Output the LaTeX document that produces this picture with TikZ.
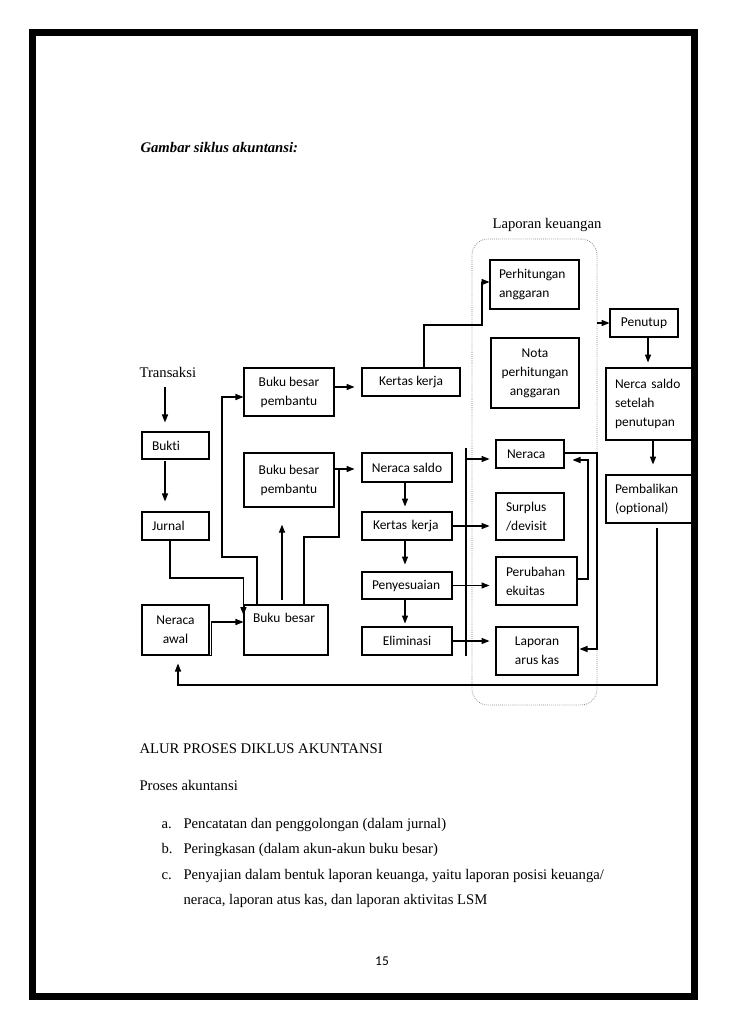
\documentclass[tikz,border=0pt]{standalone}
\usepackage{fontspec}
\setmainfont{Liberation Serif}
\newfontfamily\calibri[Ligatures=NoCommon]{Carlito}
\usetikzlibrary{arrows.meta}
\newlength{\pix}
\setlength{\pix}{0.8173pt}

\begin{document}
\begin{tikzpicture}[x=0.8173pt,y=-0.8173pt,line width=0.9pt,>={Triangle[length=6.5pt,width=5pt]},
  box/.style={draw,inner sep=0pt,font=\calibri\fontsize{11}{15.5}\selectfont,align=center},
  lbox/.style={box,align=left},
  txt/.style={inner sep=0pt,anchor=base west,font=\fontsize{12}{14}\selectfont}]
\useasboundingbox (0,0) rectangle (728,1030);

\node[txt,font=\bfseries\itshape\fontsize{12}{14}\selectfont] (judul) at (140,152) {Gambar siklus akuntansi:};
\node[txt] (transaksi) at (139,377) {Transaksi};
\node[txt] (lkjudul) at (492,228) {Laporan keuangan};

\node[lbox,text width=47\pix,inner xsep=10\pix,minimum height=27\pix] (bukti) at (175.5,445.5) {Bukti};
\node[lbox,text width=47\pix,inner xsep=10\pix,minimum height=28\pix] (jurnal) at (175.5,526) {Jurnal};
\node[box,minimum width=67\pix,minimum height=50\pix] (nawal) at (175.5,630) {Neraca\\awal};
\node[box,minimum width=90\pix,minimum height=48\pix] (bbp1) at (289,392) {Buku besar\\pembantu};
\node[box,minimum width=90\pix,minimum height=54\pix] (bbp2) at (289,480) {Buku besar\\pembantu};
\node[lbox,text width=66\pix,inner xsep=9\pix,text height=14pt,text depth=26.9pt] (bb) at (286,630) {Buku besar};
\node[box,minimum width=98\pix,minimum height=28\pix] (kk1) at (411,382) {Kertas kerja};
\node[box,minimum width=90\pix,minimum height=29\pix] (ns) at (407,467.5) {Neraca saldo};
\node[lbox,text width=68\pix,inner xsep=11\pix,minimum height=28\pix] (kk2) at (407,526) {Kertas kerja};
\node[lbox,text width=70\pix,inner xsep=10\pix,minimum height=27\pix] (peny) at (407,585.5) {Penyesuaian};
\node[box,minimum width=90\pix,minimum height=28\pix] (elim) at (407,641) {Eliminasi};

\node[draw,densely dotted,gray,line width=0.6pt,rounded corners=16\pix,minimum width=125\pix,minimum height=466\pix,inner sep=0pt] (lk) at (534.5,472) {};
\node[lbox,text width=71\pix,inner xsep=9\pix,minimum height=49\pix] (pa) at (534.5,284.5) {Perhitungan\\anggaran};
\node[box,minimum width=88\pix,minimum height=70\pix] (nota) at (535,373) {Nota\\perhitungan\\anggaran};
\node[lbox,text width=46\pix,inner xsep=11\pix,minimum height=28\pix] (neraca) at (530,454) {Neraca};
\node[lbox,text width=48\pix,inner xsep=10\pix,minimum height=47\pix] (surplus) at (530,516.5) {Surplus\\/devisit};
\node[lbox,text width=61\pix,inner xsep=10\pix,minimum height=48\pix] (perubahan) at (536.5,581) {Perubahan\\ekuitas};
\node[box,minimum width=82\pix,minimum height=48\pix] (lak) at (537,651) {Laporan\\arus kas};
\node[box,minimum width=68\pix,minimum height=28\pix] (penutup) at (644,323) {Penutup};
\node[lbox,text width=68\pix,inner xsep=9\pix,minimum height=72\pix] (nss) at (649,404) {Nerca saldo\\setelah\\penutupan};
\node[lbox,text width=68\pix,inner xsep=9\pix,minimum height=48\pix] (pemb) at (649,499) {Pembalikan\\(optional)};

\draw[->,shorten <=8pt,shorten >=7.4pt] (transaksi.south -| 165,0) -- (bukti.north -| 165,0);
\draw[->,shorten <=1pt,shorten >=8.2pt] (bukti.south -| 165,0) -- (jurnal.north -| 165,0);
\draw[->] (jurnal.south -| 170,0) |- (bb.west |- 0,578) -- (bb.west |- 0,615);
\draw[->] (nawal.south east) -- ++(2,0) |- (bb.west |- 0,622);
\draw[->,shorten <=4pt,shorten >=14pt] (bb.north -| 282,0) -- (bbp2.south -| 282,0);
\draw[->] (bb.north -| 257,0) |- (222,557) |- (bbp1.west |- 0,397);
\draw[->,shorten >=5.7pt] (bb.north -| 304,0) |- (339,537) |- (ns.west |- 0,469);
\draw (bbp2.east |- 0,469) -- (339,469);
\draw[->,shorten >=5.7pt] (bbp1.east |- 0,387) -- (kk1.west |- 0,387);
\draw[->] (kk1.north -| 424,0) |- (482,325) |- (pa.west |- 0,282);
\foreach \a/\b/\g in {ns/kk2/5,kk2/peny/7,peny/elim/3}
  \draw[->,shorten >=\g\pix] (\a.south -| 405,0) -- (\b.north -| 405,0);
\draw (466,448) -- (elim.south -| 466,0);
\draw[->,shorten >=6\pix] (466,459) -- (neraca.west |- 0,459);
\foreach \a/\b in {kk2/surplus,peny/perubahan,elim/lak}
  \draw[->,shorten >=6\pix] (\a.east) -- (\b.west |- \a.east);
\draw[->,shorten >=8\pix] (perubahan.east |- 0,579) -| (588,460) -- (neraca.east |- 0,460);
\draw[->,shorten >=1\pix] (neraca.east |- 0,453) -| (597,649) -- (lak.east |- 0,649);
\draw[->] (lk.east |- penutup.west) -- (penutup.west);
\draw[->,shorten >=5\pix] (penutup.south -| 648,0) -- (nss.north -| 648,0);
\draw[->,shorten >=10\pix] (nss.south -| 653,0) -- (pemb.north -| 653,0);
\draw[->,shorten <=4\pix,shorten >=8\pix] (pemb.south -| 657,0) |- (178,685) -- (nawal.south -| 178,0);

\node[txt] (alur) at (139,753) {ALUR PROSES DIKLUS AKUNTANSI};
\node[txt] (proses) at (139,790) {Proses akuntansi};
\foreach \i/\y/\t in {a/828/{Pencatatan dan penggolongan (dalam jurnal)},b/853/{Peringkasan (dalam akun-akun buku besar)},c/879/{Penyajian dalam bentuk laporan keuanga, yaitu laporan posisi keuanga/}}
  {\node[txt] (huruf\i) at (161,\y) {\i.};
   \node[txt] (isi\i) at (183,\y) {\t};}
\node[txt] (isic2) at (183,904) {neraca, laporan atus kas, dan laporan aktivitas LSM};
\node[anchor=base,inner sep=0pt,font=\calibri\fontsize{11}{13}\selectfont] (hal) at (382,965) {15};

\draw[line width=7\pix] (32.5,32.5) rectangle (694.5,996);
\end{tikzpicture}
\end{document}
